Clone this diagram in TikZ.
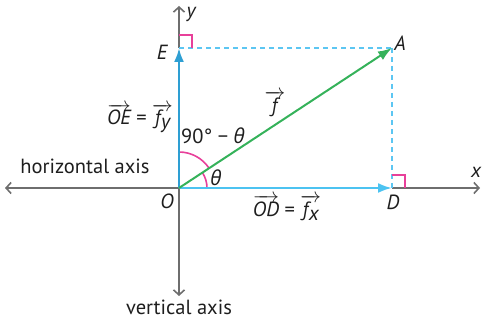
\documentclass[tikz,border=0pt]{standalone}
\usepackage{fontspec}
\setmainfont{PT Sans}
\newfontfamily\grk{Open Sans}
\usetikzlibrary{arrows.meta}
\definecolor{axisgray}{HTML}{6E6E6E}
\definecolor{vblue}{HTML}{2E9FD3}
\definecolor{hblue}{HTML}{4CC3F1}
\definecolor{dblue}{HTML}{5CC6F2}
\definecolor{vgreen}{HTML}{35B25A}
\definecolor{vpink}{HTML}{E8409A}
\definecolor{txt}{HTML}{1E1E1E}
\newcommand{\thet}{{\grk\itshape θ}}
\newcommand{\vlab}[1]{$\overrightarrow{\hbox{\itshape #1}}$}
\begin{document}
\begin{tikzpicture}[x=1pt,y=-1pt,
  axis/.style={draw=axisgray,line width=1.8pt,-{Straight Barb[length=5pt,width=11pt,line width=1.6pt]}},
  lbl/.style={text=txt,font=\fontsize{20.5}{22}\selectfont,inner sep=0pt},
  ilbl/.style={lbl,font=\fontsize{20.5}{22}\selectfont\itshape},
  dashline/.style={draw=dblue,line width=1.6pt,dash pattern=on 5pt off 4pt},
  rmark/.style={draw=vpink,line width=1.6pt}]
\useasboundingbox (0,0) rectangle (482,320);
\coordinate (O) at (179,188);
\coordinate (E) at (179,48);
\coordinate (A) at (392,48);
\coordinate (D) at (392,188);
\coordinate (xl) at (5,188);
\coordinate (xr) at (480,188);
\coordinate (yt) at (179,6);
\coordinate (yb) at (179,296);
% axes
\draw[axis] (O) -- (xl);
\draw[axis] (D) -- (xr);
\draw[axis] (E) -- (yt);
\draw[axis] (O) -- (yb);
% dashed
\draw[dashline] (E) -- (A);
\draw[dashline] (A) -- (D);
% right angle marks
\draw[rmark] ([yshift=13pt]E) -- ++(13,0) -- ++(0,13);
\draw[rmark] ([yshift=13pt]D) -- ++(13,0) -- ++(0,13);
% angle arcs
\draw[draw=vpink,line width=1.6pt] ([xshift=28pt]O) arc[start angle=0,end angle=33.3,radius=28pt];
\draw[draw=vpink,line width=1.6pt] ([yshift=36pt]O) arc[start angle=90,end angle=33.3,radius=36pt];
% vectors
\draw[draw=vblue,line width=2.4pt,-{Latex[length=14pt,width=10pt]}] (O) -- (E);
\draw[draw=hblue,line width=2.4pt,-{Latex[length=14pt,width=10pt]}] (O) -- (D);
\draw[draw=vgreen,line width=2pt,-{Latex[length=14pt,width=10pt]}] (O) -- (A);
% labels
\node[ilbl] (ly) at (191,14) {y};
\node[ilbl] (lx) at (476,172) {x};
\node[ilbl] (lE) at (162,52) {E};
\node[ilbl] (lA) at (400,43) {A};
\node[ilbl] (lO) at (167,201) {O};
\node[ilbl] (lD) at (393,202) {D};
\node[lbl] (lOE) at (140,118) {\vlab{OE} = \vlab{f\kern0.5pt\raisebox{-0.35ex}{y}}};
\node[lbl] (lOD) at (287,208) {\vlab{OD} = \vlab{f\kern0.5pt\raisebox{-0.35ex}{x}}};
\node[lbl] (lf) at (275,104) {\vlab{f\kern1pt}};
\node[lbl] (l90) at (213,136) {90° − \thet};
\node[lbl] (lth) at (216,178) {\thet};
\node[lbl] (lh) at (85,166) {horizontal axis};
\node[lbl] (lv) at (179,307) {vertical axis};
\end{tikzpicture}
\end{document}
